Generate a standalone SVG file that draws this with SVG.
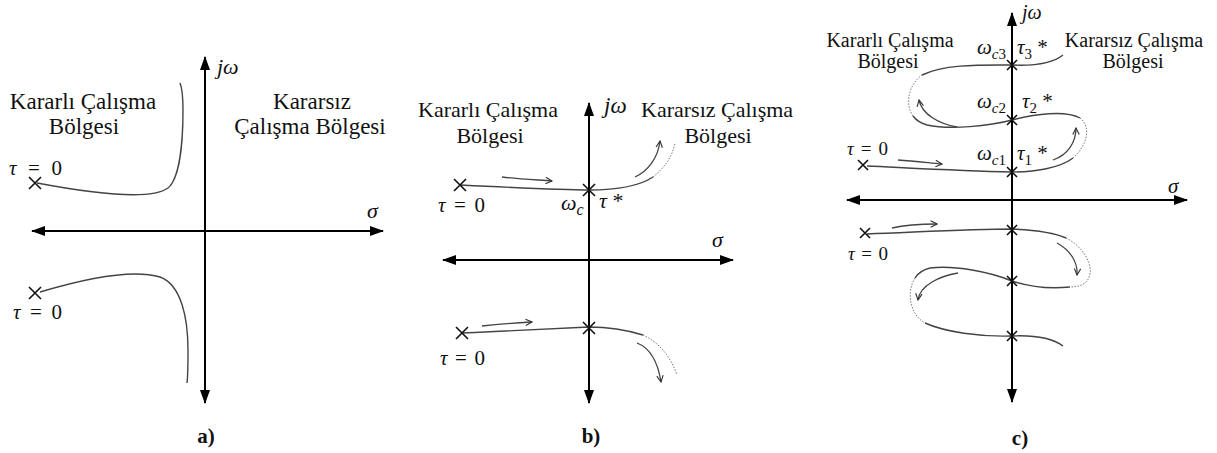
<svg xmlns="http://www.w3.org/2000/svg" width="1217" height="453" viewBox="0 0 1217 453">
<style>
text{font-family:"Liberation Serif","DejaVu Serif",serif;fill:#111}
.i{font-style:italic}
.b{font-weight:bold}
.ax{stroke:#000;stroke-width:2;fill:none}
.cv{stroke:#444;stroke-width:1.4;fill:none}
.dt{stroke:#777;stroke-width:1;fill:none;stroke-dasharray:1.5 1.5}
.ar{stroke:#444;stroke-width:1.3;fill:none}
.x{stroke:#111;stroke-width:1.6;fill:none}
</style>
<defs>
<marker id="ah" viewBox="0 0 14 10" refX="13" refY="5" markerWidth="14" markerHeight="10" markerUnits="userSpaceOnUse" orient="auto-start-reverse"><path d="M0,0 L14,5 L0,10 z" fill="#000"/></marker>
<marker id="oa" viewBox="0 0 10 10" refX="9" refY="5" markerWidth="8" markerHeight="8" markerUnits="userSpaceOnUse" orient="auto"><path d="M1,1 L9,5 L1,9" fill="none" stroke="#333" stroke-width="1.4"/></marker>
<path id="xl" d="M-6,-6 L6,6 M-6,6 L6,-6"/>
<path id="xs" d="M-5,-5 L5,5 M-5,5 L5,-5"/>
</defs>

<!-- Panel a -->
<g id="panel-a">
<g id="a-axes">
<line class="ax" x1="205" y1="403" x2="205" y2="57" marker-start="url(#ah)" marker-end="url(#ah)"/>
<line class="ax" x1="32" y1="231" x2="383" y2="231" marker-start="url(#ah)" marker-end="url(#ah)"/>
</g>
<g id="a-connectors">
<path class="cv" d="M37,183 C90,193 150,201 168,188 C180,178 183,140 183,110 C183,95 182,88 180,83"/>
<path class="cv" d="M40,292 C80,280 130,268 160,277 C182,285 188,320 188,350 C188,365 188,375 187,383"/>
</g>
<g id="a-poles">
<use href="#xl" class="x" x="35" y="183"/>
<use href="#xl" class="x" x="35" y="293"/>
</g>
<g id="a-labels">
<text x="217" y="74" font-size="22" class="i">jω</text>
<text x="367" y="218" font-size="22" class="i">σ</text>
<text x="83" y="109" font-size="23" text-anchor="middle">Kararlı Çalışma</text>
<text x="84" y="134" font-size="23" text-anchor="middle">Bölgesi</text>
<text x="312" y="109" font-size="23" text-anchor="middle">Kararsız</text>
<text x="310" y="134" font-size="23" text-anchor="middle">Çalışma Bölgesi</text>
<text x="9" y="175" font-size="21" textLength="53" lengthAdjust="spacing"><tspan class="i">τ</tspan> = 0</text>
<text x="13" y="319" font-size="21" textLength="49" lengthAdjust="spacing"><tspan class="i">τ</tspan> = 0</text>
<text x="206" y="443" font-size="21" class="b" text-anchor="middle">a)</text>
</g>
</g>

<!-- Panel b -->
<g id="panel-b">
<g id="b-axes">
<line class="ax" x1="589" y1="403" x2="589" y2="103" marker-start="url(#ah)" marker-end="url(#ah)"/>
<line class="ax" x1="443" y1="260" x2="733" y2="260" marker-start="url(#ah)" marker-end="url(#ah)"/>
</g>
<g id="b-connectors">
<path class="cv" d="M460,185 C520,188 560,190 589,190 C615,190 638,187 653,177"/>
<path class="dt" d="M653,177 C664,168 672,158 675,143"/>
<path class="ar" d="M502,177 C520,179 540,180 552,181" marker-end="url(#oa)"/>
<path class="ar" d="M635,177 C648,171 658,158 660,141" marker-end="url(#oa)"/>
<path class="cv" d="M462,333 C510,331 560,328 589,327 C612,327 630,331 643,335"/>
<path class="dt" d="M643,335 C658,342 670,355 677,375"/>
<path class="ar" d="M482,326 C500,324 515,323 532,322" marker-end="url(#oa)"/>
<path class="ar" d="M637,343 C650,348 658,363 661,382" marker-end="url(#oa)"/>
</g>
<g id="b-poles">
<use href="#xl" class="x" x="460" y="185"/>
<use href="#xl" class="x" x="589" y="190"/>
<use href="#xl" class="x" x="462" y="333"/>
<use href="#xl" class="x" x="589" y="328"/>
</g>
<g id="b-labels">
<text x="604" y="113" font-size="23" class="i">jω</text>
<text x="712" y="247" font-size="22" class="i">σ</text>
<text x="488" y="117" font-size="22" text-anchor="middle">Kararlı Çalışma</text>
<text x="490" y="143" font-size="22" text-anchor="middle">Bölgesi</text>
<text x="641" y="117" font-size="22">Kararsız Çalışma</text>
<text x="718" y="143" font-size="22" text-anchor="middle">Bölgesi</text>
<text x="438" y="212" font-size="21" textLength="47" lengthAdjust="spacing"><tspan class="i">τ</tspan> = 0</text>
<text x="440" y="365" font-size="21" textLength="45" lengthAdjust="spacing"><tspan class="i">τ</tspan> = 0</text>
<text x="561" y="210" font-size="22" class="i">ω<tspan dy="5" font-size="16">c</tspan></text>
<text x="599" y="208" font-size="22"><tspan class="i">τ</tspan> *</text>
<text x="591" y="443" font-size="21" class="b" text-anchor="middle">b)</text>
</g>
</g>

<!-- Panel c -->
<g id="panel-c">
<g id="c-axes">
<line class="ax" x1="1012" y1="402" x2="1012" y2="13" marker-start="url(#ah)" marker-end="url(#ah)"/>
<line class="ax" x1="847" y1="200" x2="1187" y2="200" marker-start="url(#ah)" marker-end="url(#ah)"/>
</g>
<g id="c-connectors">
<path class="cv" d="M867,166 C910,168 960,171 1012,172 C1035,172 1060,168 1073,158"/>
<path class="dt" d="M1073,158 C1085,148 1093,128 1080,118"/>
<path class="cv" d="M1080,118 C1065,110 1035,114 1012,120 C990,126 950,130 927,125 C920,123 916,120 913,116"/>
<path class="dt" d="M913,116 C905,105 908,85 922,75"/>
<path class="cv" d="M922,75 C945,64 980,65 1012,65 C1035,66 1052,64 1063,55"/>
<path class="ar" d="M898,160 C915,161 930,163 942,164" marker-end="url(#oa)"/>
<path class="ar" d="M1053,160 C1068,155 1076,142 1076,128" marker-end="url(#oa)"/>
<path class="ar" d="M957,127 C940,124 922,115 919,100" marker-end="url(#oa)"/>
<path class="cv" d="M867,234 C920,232 970,229 1012,229 C1035,230 1055,233 1066,238"/>
<path class="dt" d="M1066,238 C1082,246 1092,262 1090,274 C1088,284 1080,287 1070,287"/>
<path class="cv" d="M1070,287 C1050,289 1030,287 1012,281 C990,272 955,265 930,268 C922,270 918,273 915,278"/>
<path class="dt" d="M915,278 C906,292 910,315 925,323"/>
<path class="cv" d="M925,323 C945,332 980,337 1012,336 C1035,335 1052,338 1063,346"/>
<path class="ar" d="M892,228 C905,225 920,224 937,224" marker-end="url(#oa)"/>
<path class="ar" d="M1057,243 C1070,250 1078,262 1077,275" marker-end="url(#oa)"/>
<path class="ar" d="M958,273 C940,276 920,285 918,300" marker-end="url(#oa)"/>
</g>
<g id="c-poles">
<use href="#xs" class="x" x="863" y="165"/>
<use href="#xs" class="x" x="1012" y="65"/>
<use href="#xs" class="x" x="1012" y="120"/>
<use href="#xs" class="x" x="1012" y="172"/>
<use href="#xs" class="x" x="865" y="233"/>
<use href="#xs" class="x" x="1012" y="230"/>
<use href="#xs" class="x" x="1012" y="281"/>
<use href="#xs" class="x" x="1012" y="336"/>
</g>
<g id="c-labels">
<text x="1022" y="19" font-size="20" class="i">jω</text>
<text x="1168" y="193" font-size="21" class="i">σ</text>
<text x="890" y="47" font-size="20" text-anchor="middle">Kararlı Çalışma</text>
<text x="888" y="68" font-size="20" text-anchor="middle">Bölgesi</text>
<text x="1134" y="47" font-size="20" text-anchor="middle">Kararsız Çalışma</text>
<text x="1133" y="68" font-size="20" text-anchor="middle">Bölgesi</text>
<text x="847" y="155" font-size="19" textLength="41" lengthAdjust="spacing"><tspan class="i">τ</tspan> = 0</text>
<text x="848" y="260" font-size="19" textLength="40" lengthAdjust="spacing"><tspan class="i">τ</tspan> = 0</text>
<text x="977" y="54" font-size="21"><tspan class="i">ω</tspan><tspan dy="5" font-size="15" class="i">c</tspan><tspan font-size="15">3</tspan></text>
<text x="1017" y="54" font-size="21"><tspan class="i">τ</tspan><tspan dy="5" font-size="15">3</tspan><tspan dy="-5"> *</tspan></text>
<text x="977" y="108" font-size="21"><tspan class="i">ω</tspan><tspan dy="5" font-size="15" class="i">c</tspan><tspan font-size="15">2</tspan></text>
<text x="1022" y="108" font-size="21"><tspan class="i">τ</tspan><tspan dy="5" font-size="15">2</tspan><tspan dy="-5"> *</tspan></text>
<text x="977" y="160" font-size="21"><tspan class="i">ω</tspan><tspan dy="5" font-size="15" class="i">c</tspan><tspan font-size="15">1</tspan></text>
<text x="1017" y="160" font-size="21"><tspan class="i">τ</tspan><tspan dy="5" font-size="15">1</tspan><tspan dy="-5"> *</tspan></text>
<text x="1020" y="445" font-size="21" class="b" text-anchor="middle">c)</text>
</g>
</g>
</svg>
